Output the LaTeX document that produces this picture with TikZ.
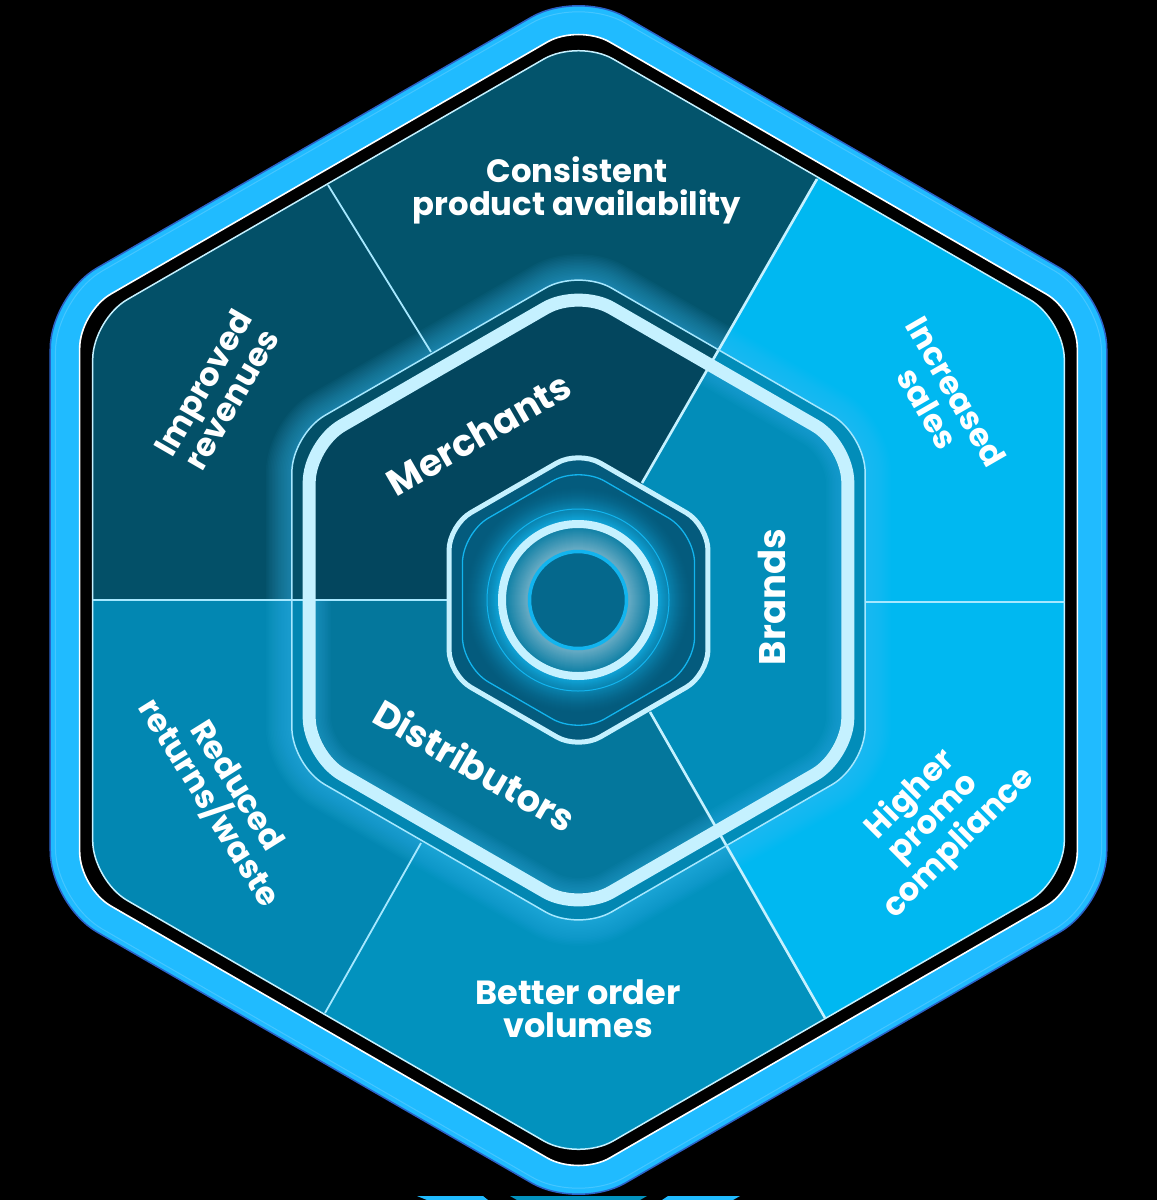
\documentclass[tikz,border=0pt]{standalone}
\usepackage{fontspec}
\setmainfont{Poppins}
\definecolor{bandcyan}{HTML}{20BBFF}
\definecolor{edgeblue}{HTML}{2B62C8}
\definecolor{edgelite}{HTML}{45C6FF}
\definecolor{pale}{HTML}{C5F1FF}
\definecolor{thinline}{HTML}{A6E8FF}
\definecolor{secTop}{HTML}{03546C}
\definecolor{secUL}{HTML}{035068}
\definecolor{secR}{HTML}{00B8F1}
\definecolor{secLL}{HTML}{0287B2}
\definecolor{secBot}{HTML}{0292BE}
\definecolor{midMer}{HTML}{03465E}
\definecolor{midBra}{HTML}{028DB9}
\definecolor{midDis}{HTML}{04779C}
\definecolor{coreFill}{HTML}{045B7D}
\definecolor{coreLine}{HTML}{12B4EE}
\definecolor{coreDisc}{HTML}{05688C}
\definecolor{haloA}{HTML}{0FA4D8}
\definecolor{ringA}{HTML}{64A9C2}
\definecolor{ringC}{HTML}{0B7EA4}
\newcommand{\hexpath}[2]{[rounded corners=#2pt]
  ({578.5+0.433*#1},{600-0.75*#1}) -- ({578.5+0.866*#1},{600-0.5*#1}) -- ({578.5+0.866*#1},{600+0.5*#1})
  -- (578.5,{600+#1}) -- ({578.5-0.866*#1},{600+0.5*#1}) -- ({578.5-0.866*#1},{600-0.5*#1})
  -- (578.5,{600-#1}) -- cycle}
\tikzset{
  label text/.style={text=white,align=center,font=\fontsize{32.3}{33}\selectfont\bfseries,inner sep=0pt},
  big text/.style={text=white,align=center,font=\fontsize{37}{37}\selectfont\bfseries,inner sep=0pt},
  divider/.style={draw=thinline,line width=1.8pt},
  strong divider/.style={draw=pale,line width=2.6pt},
  glowline/.style={draw=edgelite,draw opacity=0.034}
}
\begin{document}
\begin{tikzpicture}[x=1pt,y=-1pt]
\useasboundingbox (0,0) rectangle (1157,1200);
\fill[black] (0,0) rectangle (1157,1200);
% wrapped fragments at the very bottom
\fill[bandcyan] (417,1196) -- (483,1196) -- (488,1200) -- (427,1200) -- cycle;
\fill[bandcyan] (668,1196) -- (740,1196) -- (733,1200) -- (662,1200) -- cycle;
\fill[secBot] (510,1196) -- (647,1196) -- (640,1200) -- (517,1200) -- cycle;
% outer band
\draw[edgeblue,line width=1.5pt,fill=bandcyan] \hexpath{610}{54};
\draw[edgelite,line width=1pt] \hexpath{604}{54};
\draw[white,line width=1.6pt,fill=black] \hexpath{576}{36};
% divider end points
\coordinate (ctr) at (580,600);
\coordinate (a1) at (328,185); \coordinate (a2) at (431,352);
\coordinate (b1) at (817,179); \coordinate (b2) at (642,483);
\coordinate (c1) at (1065,602); \coordinate (c2) at (866,602);
\coordinate (d1) at (825,1018); \coordinate (d2) at (650,712);
\coordinate (e1) at (325,1013); \coordinate (e2) at (421,843);
\coordinate (f1) at (93,600); \coordinate (f2) at (447,600);
\coordinate (farA) at (225,18);
\coordinate (farB) at (875,78);
\coordinate (farC) at (1200,602);
\coordinate (farD) at (883,1119);
\coordinate (farE) at (267,1114);
\coordinate (farF) at (0,600);
% outer panel sectors
\begin{scope}
  \clip \hexpath{561}{40};
  \fill[secTop] (ctr) -- (a2) -- (farA) -- (578,-200) -- (farB) -- (b2) -- cycle;
  \fill[secUL] (ctr) -- (farF) -- (0,0) -- (farA) -- (a2) -- cycle;
  \fill[secR] (ctr) -- (b2) -- (farB) -- (1200,0) -- (farC) -- cycle;
  \fill[secR] (ctr) -- (farC) -- (1200,1200) -- (farD) -- (d2) -- cycle;
  \fill[secBot] (ctr) -- (d2) -- (farD) -- (578,1400) -- (farE) -- (e2) -- cycle;
  \fill[secLL] (ctr) -- (e2) -- (farE) -- (0,1200) -- (farF) -- cycle;
\end{scope}
\draw[pale,line width=1.5pt] \hexpath{561}{40};
% glow around middle hexagon
\foreach \w in {52,49,...,4}{
  \draw[glowline,line width=\w pt] \hexpath{331}{38};
}
% middle sectors
\begin{scope}
  \clip \hexpath{331}{38};
  \fill[midMer] (ctr) -- (farF) -- (0,-200) -- (farB) -- (b2) -- cycle;
  \fill[midBra] (ctr) -- (b2) -- (farB) -- (1400,600) -- (farD) -- (d2) -- cycle;
  \fill[midDis] (ctr) -- (d2) -- (farD) -- (0,1400) -- (farF) -- cycle;
\end{scope}
% ring between thin line and thick band keeps the outer tones
\begin{scope}
  \clip \hexpath{331}{38};
  \begin{scope}
    \clip (ctr) -- (farF) -- (0,-200) -- (farB) -- (b2) -- cycle;
    \draw[secUL,line width=28pt] \hexpath{321}{38};
  \end{scope}
  \begin{scope}
    \clip (ctr) -- (d2) -- (farD) -- (0,1400) -- (farF) -- cycle;
    \draw[secLL,line width=28pt] \hexpath{321}{38};
  \end{scope}
\end{scope}
% inner glow of the band, only on the two lighter inner sectors
\begin{scope}
  \clip \hexpath{304}{38};
  \clip (ctr) -- (farF) -- (0,1400) -- (1400,1400) -- (1400,-200) -- (farB) -- (b2) -- cycle;
  \foreach \w in {44,41,...,17}{
    \draw[glowline,line width=\w pt] \hexpath{311}{38};
  }
\end{scope}
\draw[divider] (a1) -- (a2);
\draw[strong divider] (b1) -- (b2);
\draw[divider] (c1) -- (c2);
\draw[strong divider] (d1) -- (d2);
\draw[divider] (e1) -- (e2);
\draw[divider] (f1) -- (f2);
\draw[thinline,line width=1.5pt] \hexpath{331}{38};
\draw[pale,line width=13pt] \hexpath{311}{38};
% core
\draw[pale,line width=5pt,fill=coreFill] \hexpath{149.5}{25};
\draw[coreLine,line width=1.3pt] \hexpath{134}{30};
% halo outside the ring
\foreach \r in {114,113,...,80}{
  \pgfmathtruncatemacro{\p}{100*((114-\r)/34)^1.5}
  \fill[haloA!\p!coreFill] (578,600) circle (\r);
}
\draw[coreLine,line width=1pt] (578,600) circle (91);
% gradient inside the ring
\foreach \r in {74,73,...,50}{
  \pgfmathtruncatemacro{\p}{100*(74-\r)/22}
  \pgfmathtruncatemacro{\q}{min(\p,100)}
  \fill[ringA!\q!ringC] (578,600) circle (\r);
}
\draw[pale,line width=8pt] (578,600) circle (76);
\draw[coreLine,line width=3.5pt,fill=coreDisc] (578,600) circle (48.5);
% labels
\node[label text] (consistent) at (577,190) {Consistent\\product availability};
\node[label text,rotate=60] (improved) at (217,391) {Improved\\revenues};
\node[label text,rotate=-60] (increased) at (942,400) {Increased\\sales};
\node[label text,rotate=45] (higher) at (935,819) {Higher\\promo\\compliance};
\node[label text,rotate=-58] (reduced) at (222,795) {Reduced\\returns/waste};
\node[label text,font=\fontsize{33.5}{33}\selectfont\bfseries] (better) at (578,1009) {Better order\\volumes};
\node[big text,rotate=30] (merchants) at (479,434) {Merchants};
\node[big text,rotate=90] (brands) at (772,597) {Brands};
\node[big text,rotate=-30] (distributors) at (475,765) {Distributors};
\end{tikzpicture}
\end{document}
